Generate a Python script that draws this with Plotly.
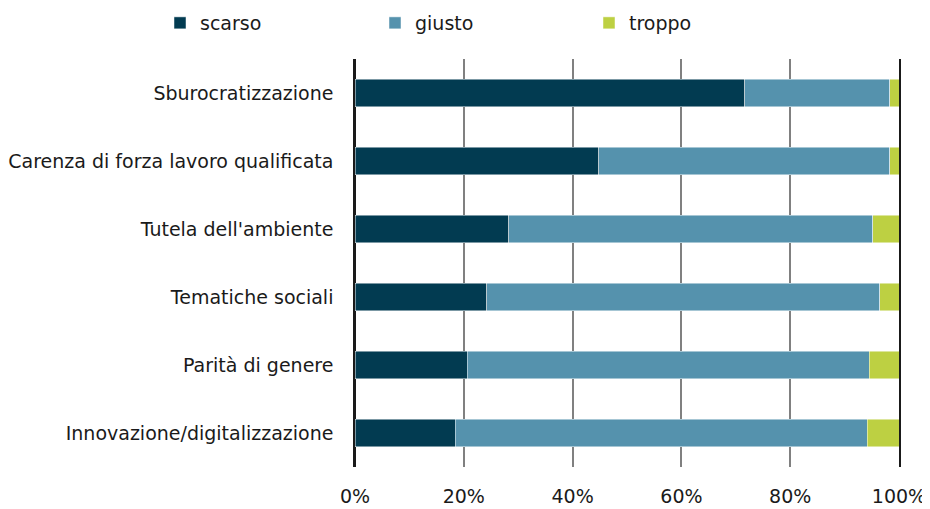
import plotly.graph_objects as go

categories = ["Sburocratizzazione", "Carenza di forza lavoro qualificata", "Tutela dell'ambiente",
              "Tematiche sociali", "Parità di genere", "Innovazione/digitalizzazione"]
scarso = [71.6, 44.8, 28.3, 24.2, 20.6, 18.4]
giusto = [26.7, 53.5, 66.9, 72.3, 73.9, 75.8]
troppo = [1.7, 1.7, 4.8, 3.5, 5.5, 5.8]
tick_vals = [0, 20, 40, 60, 80, 100]
tick_text = ["0%", "20%", "40%", "60%", "80%", "100%"]

# page has an 8px body margin, so figure coords = page coords - 8
OFF = 8
series = [("scarso", scarso, "#023b51", "legend", 160),
          ("giusto", giusto, "#5592ad", "legend2", 375),
          ("troppo", troppo, "#bdd042", "legend3", 589)]

font = "DejaVu Sans"
fs = 19
fig = go.Figure()
legends = {}
for name, vals, col, lg, lx in series:
    fig.add_trace(go.Bar(
        y=categories, x=vals, name=name, orientation="h", legend=lg,
        marker=dict(color=col, line=dict(color="rgba(255,255,255,0.6)", width=0.8)),
    ))
    legends[lg] = dict(orientation="h", x=(lx - OFF) / 930, xanchor="left",
                       y=1 - (23 - OFF) / 509, yanchor="middle",
                       xref="container", yref="container", font=dict(size=fs, family=font),
                       bgcolor="rgba(0,0,0,0)", itemwidth=30)

fig.update_layout(
    barmode="stack", bargap=0.6,
    width=930, height=509,
    margin=dict(l=355 - OFF, r=930 - (899 - OFF), t=59 - OFF, b=509 - (467 - OFF), autoexpand=False),
    plot_bgcolor="white", paper_bgcolor="white",
    font=dict(family=font, size=fs, color="#1a1a1a"),
    showlegend=True,
    **legends,
)
fig.update_xaxes(range=[0, 100], tickvals=tick_vals, ticktext=tick_text, automargin=False,
                 showgrid=True, gridcolor="#808080", gridwidth=1.5,
                 zeroline=True, zerolinecolor="#1a1a1a", zerolinewidth=1.5,
                 showline=False, ticks="", ticklabelstandoff=16)
fig.update_yaxes(autorange="reversed", showline=True, mirror=True, linecolor="#1a1a1a", linewidth=1.5,
                 automargin=False, ticks="", ticklabelstandoff=16, showgrid=False)

fig.write_html("out.html")
